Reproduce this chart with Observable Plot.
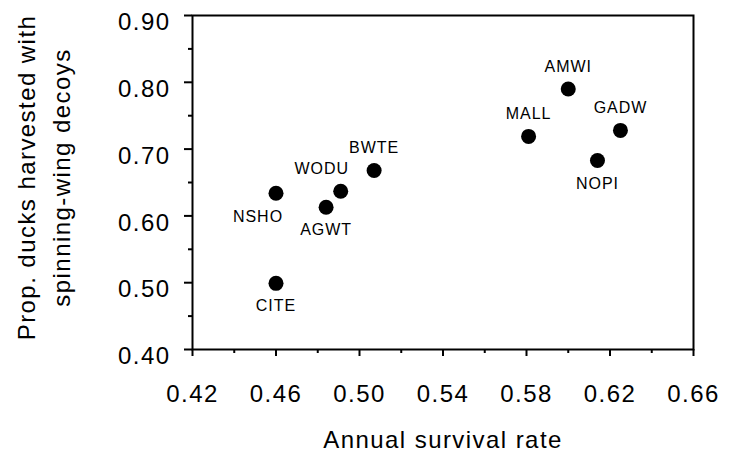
<!DOCTYPE html>
<html>
<head>
<meta charset="utf-8">
<script src="https://cdn.jsdelivr.net/npm/d3@7"></script>
<script src="https://cdn.jsdelivr.net/npm/@observablehq/plot@0.6"></script>
<style>
  body { margin: 0; background: #fff; }
  svg text { letter-spacing: 0.06em; }
</style>
</head>
<body>
<div id="chart"></div>
<script>
// ---- data ----
const species      = ["NSHO", "CITE", "WODU", "AGWT", "BWTE", "MALL", "AMWI", "GADW", "NOPI"];
const survival     = [0.460, 0.460, 0.491, 0.484, 0.507, 0.581, 0.600, 0.625, 0.614];
const propSpinning = [0.634, 0.499, 0.637, 0.613, 0.668, 0.719, 0.790, 0.728, 0.683];
const labelSide    = ["below-left", "below", "above-left", "below", "above", "above", "above", "above", "below"];

const xMajorTicks = [0.42, 0.46, 0.50, 0.54, 0.58, 0.62, 0.66];
const xMinorTicks = [0.44, 0.48, 0.52, 0.56, 0.60, 0.64];
const yMajorTicks = [0.40, 0.50, 0.60, 0.70, 0.80, 0.90];
const yMinorTicks = [0.45, 0.55, 0.65, 0.75, 0.85];

const xTitle = "Annual survival rate";
const yTitle = "Prop. ducks harvested with\nspinning-wing decoys";

// ---- build ----
const rows = species.map((s, i) => ({species: s, survival: survival[i], prop: propSpinning[i], side: labelSide[i]}));

const offsets = {
  "above":      [0, -22.5],
  "below":      [0, 23],
  "above-left": [-19, -22],
  "below-left": [-18, 24]
};

const labelMarks = Object.entries(offsets).map(([side, [dx, dy]]) =>
  Plot.text(rows.filter(d => d.side === side), {
    x: "survival", y: "prop", text: "species",
    dx, dy, fontSize: 16, fill: "black",
    textAnchor: "middle", lineAnchor: "middle"
  })
);

const fmt = d3.format(".2f");

const chart = Plot.plot({
  width: 735,
  height: 462,
  marginLeft: 192,
  marginRight: 42,
  marginTop: 15,
  marginBottom: 113,
  style: {fontFamily: "'Liberation Sans', Arial, Helvetica, sans-serif", background: "white", color: "black"},
  x: {domain: [0.42, 0.66], label: null},
  y: {domain: [0.40, 0.90], label: null},
  marks: [
    // ticks
    Plot.axisX({ticks: xMajorTicks, tickSize: 7, strokeWidth: 2, text: null, label: null}),
    Plot.axisX({ticks: xMinorTicks, tickSize: 4, strokeWidth: 2, text: null, label: null}),
    Plot.axisY({ticks: yMajorTicks, tickSize: 8, strokeWidth: 2, text: null, label: null}),
    Plot.axisY({ticks: yMinorTicks, tickSize: 4, strokeWidth: 2, text: null, label: null}),
    // tick labels
    Plot.axisX({ticks: xMajorTicks, tickSize: 0, tickPadding: 35, fontSize: 24, tickFormat: fmt, label: null}),
    Plot.axisY({ticks: yMajorTicks, tickSize: 0, tickPadding: 22, dy: 7, fontSize: 24, tickFormat: fmt, label: null}),
    // frame box
    Plot.frame({stroke: "black", strokeWidth: 2}),
    // points
    Plot.dot(rows, {x: "survival", y: "prop", r: 7.5, fill: "black", stroke: "none"}),
    ...labelMarks,
    // axis titles
    Plot.text([xTitle], {frameAnchor: "bottom", text: d => d, dy: 91, fontSize: 24, fill: "black", lineAnchor: "middle"}),
    Plot.text([yTitle], {frameAnchor: "left", text: d => d, rotate: -90, dx: -151, dy: -5, fontSize: 24, lineHeight: 1.46, fill: "black", textAnchor: "middle", lineAnchor: "middle"})
  ]
});

document.getElementById("chart").appendChild(chart);
</script>
</body>
</html>
